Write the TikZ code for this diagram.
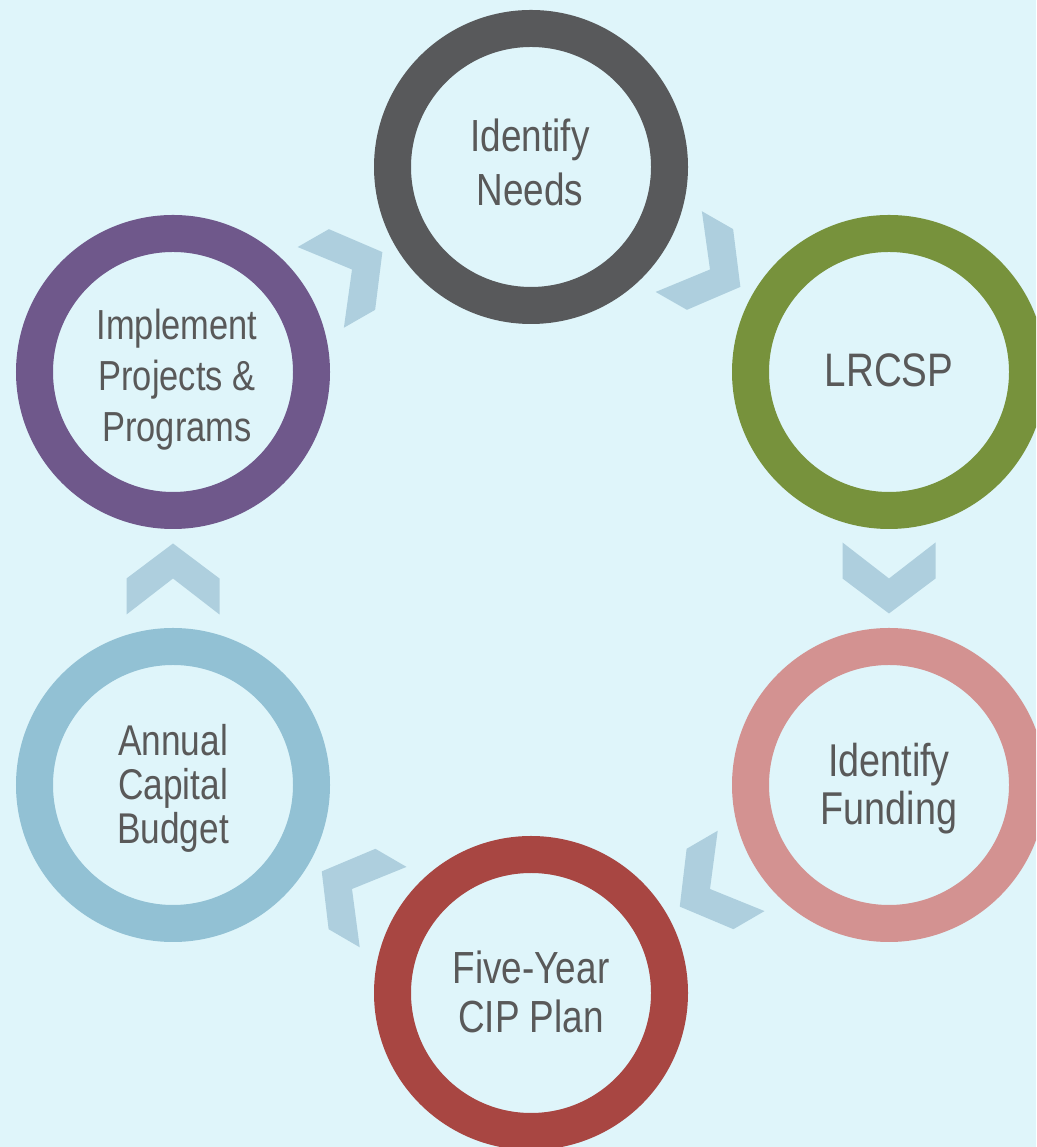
\documentclass[tikz,border=0pt]{standalone}
\usepackage{fontspec}
\setmainfont[FakeStretch=0.82]{Liberation Sans}
\usetikzlibrary{calc}
\definecolor{bgcol}{RGB}{223,245,250}
\definecolor{chevcol}{RGB}{174,207,222}
\definecolor{txtcol}{RGB}{89,89,89}
\definecolor{cgray}{RGB}{88,89,91}
\definecolor{cgreen}{RGB}{119,146,60}
\definecolor{cpink}{RGB}{211,146,145}
\definecolor{cred}{RGB}{168,70,66}
\definecolor{cblue}{RGB}{146,193,212}
\definecolor{cpurple}{RGB}{111,88,139}
\tikzset{
  ring/.style={circle, draw=#1, line width=37pt, minimum size=277pt, inner sep=0pt},
  lbl/.style={align=center, text=txtcol, inner sep=0pt},
  chevron/.pic={\fill[chevcol] (-36,46.5) -- (0,0) -- (-36,-46.5) -- (0,-46.5) -- (35,0) -- (0,46.5) -- cycle;}
}
\begin{document}
\begin{tikzpicture}[x=1pt,y=1pt]
\fill[bgcol] (0,0) rectangle (1036,1147);
\useasboundingbox (0,0) rectangle (1036,1147);
\clip (0,0) rectangle (1036,1147);
% rings
\node[ring=cgray]   (N) at (531,980) {};
\node[ring=cgreen]  (L) at (889,775) {};
\node[ring=cpink]   (F) at (889,362) {};
\node[ring=cred]    (C) at (531,154) {};
\node[ring=cblue]   (A) at (173,362) {};
\node[ring=cpurple] (I) at (173,775) {};
% labels
\node[lbl, font=\fontsize{45}{54}\selectfont] (Nt) at (530,985) {Identify\\Needs};
\node[lbl, font=\fontsize{47}{52}\selectfont] (Lt) at (889,777) {LRCSP};
\node[lbl, font=\fontsize{46}{48}\selectfont] (Ft) at (889,358) {Identify\\Funding};
\node[lbl, font=\fontsize{45}{49}\selectfont] (Ct) at (531,155) {Five-Year\\CIP Plan};
\node[lbl, font=\fontsize{43}{44}\selectfont] (At) at (173,359) {Annual\\Capital\\Budget};
\node[lbl, font=\fontsize{42}{51}\selectfont] (It) at (177,767) {Implement\\Projects \&\\Programs};
% chevrons
\pic[rotate=29.8]   at ($(I)!0.5!(N)$) {chevron};
\pic[rotate=-29.8]  at ($(N)!0.5!(L)$) {chevron};
\pic[rotate=-90]    at ($(L)!0.5!(F)$) {chevron};
\pic[rotate=-149.8] at ($(F)!0.5!(C)$) {chevron};
\pic[rotate=149.8]  at ($(C)!0.5!(A)$) {chevron};
\pic[rotate=90]     at ($(A)!0.5!(I)$) {chevron};
\end{tikzpicture}
\end{document}
